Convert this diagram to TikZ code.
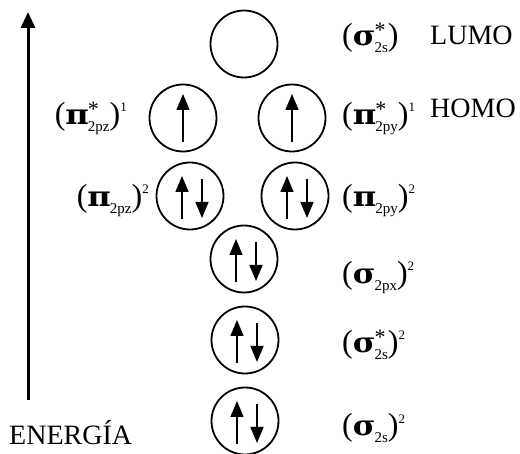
\documentclass[tikz,border=0pt]{standalone}
\usepackage{fontspec}
\setmainfont{Liberation Serif}
\newfontfamily\grfont{DejaVu Serif}
\usetikzlibrary{arrows.meta,calc}
\newcommand{\bigsize}{\fontsize{28}{30}\selectfont}
\newcommand{\labsize}{\fontsize{32}{34}\selectfont}
\newcommand{\gr}[2]{\scalebox{#1}[1]{\grfont\bfseries\fontsize{28}{30}\selectfont #2}}
\newcommand{\orb}[4]{(#1\kern-1pt\rlap{\raisebox{8pt}{\fontsize{22}{22}\selectfont #2}}\raisebox{-7pt}{\fontsize{15}{15}\selectfont #3})\raisebox{13pt}{\fontsize{13}{13}\selectfont #4}}
\newcommand{\spinone}[1]{\draw[spin] ([yshift=-24pt]#1.center) -- ([yshift=24pt]#1.center);}
\newcommand{\spintwo}[1]{\draw[spin] ([xshift=-8pt,yshift=-23pt]#1.center) -- ([xshift=-8pt,yshift=20pt]#1.center);
  \draw[spin] ([xshift=12pt,yshift=17pt]#1.center) -- ([xshift=12pt,yshift=-22pt]#1.center);}

\begin{document}
\begin{tikzpicture}[x=1pt,y=-1pt,
  orbital/.style={draw,circle,line width=1.8pt,minimum size=67pt,inner sep=0pt},
  spin/.style={line width=1.5pt,-{Triangle[length=16pt,width=13pt]}},
  energy/.style={line width=3pt,-{Triangle[length=16pt,width=14pt]}},
  word/.style={font=\bigsize,inner sep=0pt},
  lab/.style={font=\labsize,inner sep=0pt}]
\useasboundingbox (0,0) rectangle (520,454);
% orbitals
\node[orbital] (lumo)  at (244,44) {};
\node[orbital] (homoL) at (183,118) {};
\node[orbital] (homoR) at (292,118) {};
\node[orbital] (piL)   at (190,196) {};
\node[orbital] (piR)   at (295,196) {};
\node[orbital] (sigp)  at (244,259) {};
\node[orbital] (sigss) at (245,340) {};
\node[orbital] (sigs)  at (245,421) {};
% electrons
\spinone{homoL}
\spinone{homoR}
\foreach \o in {piL,piR,sigp,sigss,sigs}{\spintwo{\o}}
% labels
\node[lab,anchor=base west] (llumo)  at (342,46)  {\orb{\gr{1.1}{σ}}{*}{2s}{}};
\node[word,anchor=base west] (tlumo) at (430,45)  {LUMO};
\node[lab,anchor=base east] (lhomoL) at (127,125) {\orb{\gr{1.15}{π}}{*}{2pz}{1}};
\node[lab,anchor=base west] (lhomoR) at (342,125) {\orb{\gr{1.15}{π}}{*}{2py}{1}};
\node[word,anchor=base west] (thomo) at (430,118) {HOMO};
\node[lab,anchor=base east] (lpiL)   at (149,207) {\orb{\gr{1.15}{π}}{}{2pz}{2}};
\node[lab,anchor=base west] (lpiR)   at (342,207) {\orb{\gr{1.15}{π}}{}{2py}{2}};
\node[lab,anchor=base west] (lsigp)  at (342,284) {\orb{\gr{1.1}{σ}}{}{2px}{2}};
\node[lab,anchor=base west] (lsigss) at (342,353) {\orb{\gr{1.1}{σ}}{*}{2s}{2}};
\node[lab,anchor=base west] (lsigs)  at (342,436) {\orb{\gr{1.1}{σ}}{}{2s}{2}};
% energy axis
\coordinate (ebot) at (28,400);
\coordinate (etop) at (28,12);
\draw[energy] (ebot) -- (etop);
\node[word,anchor=base west] (energia) at (9,445) {ENERGÍA};
\end{tikzpicture}
\end{document}
